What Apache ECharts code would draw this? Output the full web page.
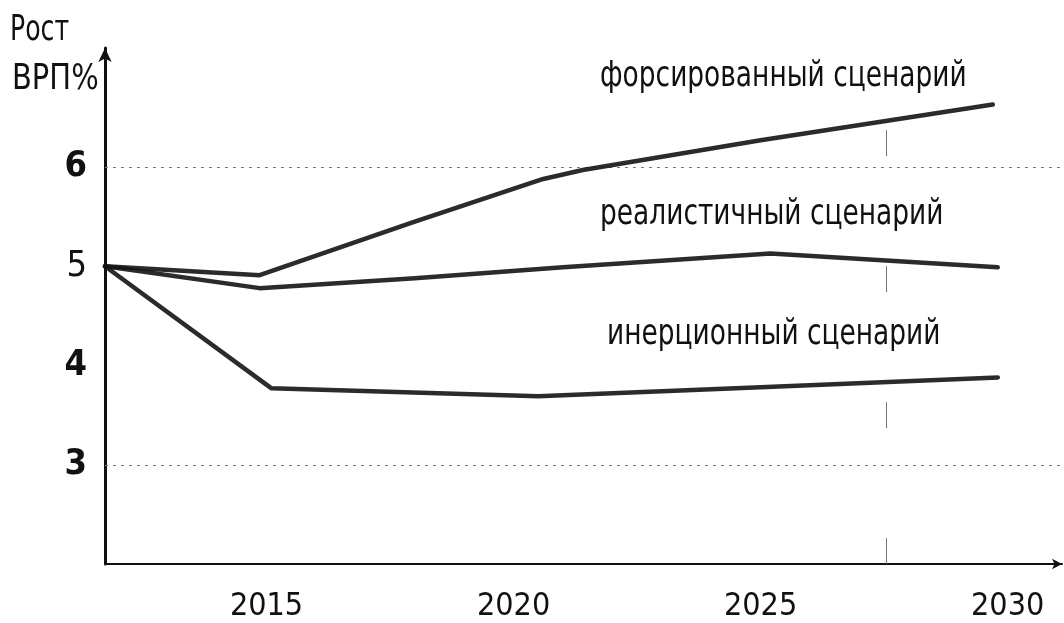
<!DOCTYPE html>
<html>
<head>
<meta charset="utf-8">
<script src="https://cdn.jsdelivr.net/npm/echarts@6/dist/echarts.min.js"></script>
<style>
  html, body { margin: 0; padding: 0; background: #fff; }
  #chart { width: 1064px; height: 623px; }
</style>
</head>
<body>
<div id="chart"></div>
<script>
// Рост ВРП, % — три сценария развития
const xStart = 2011.73;
const xEnd = 2031.1;
const yearTicks = [2015, 2020, 2025, 2030];
const growthTicks = [3, 4, 5, 6];

const forcedYears = [2011.73, 2014.86, 2018.0, 2020.6, 2021.4, 2025.0, 2029.7];
const forcedValues = [5.0, 4.91, 5.45, 5.88, 5.97, 6.27, 6.63];

const realisticYears = [2011.73, 2014.86, 2018.0, 2021.0, 2025.2, 2029.8];
const realisticValues = [5.0, 4.78, 4.88, 4.99, 5.13, 4.99];

const inertialYears = [2011.73, 2015.1, 2020.5, 2025.0, 2029.8];
const inertialValues = [5.0, 3.77, 3.69, 3.78, 3.88];

const scenarioNames = ['форсированный сценарий', 'реалистичный сценарий', 'инерционный сценарий'];
const guideLevels = [3, 6];
const foldYear = 2027.55;

const FONT = '"DejaVu Sans Condensed", "DejaVu Sans", sans-serif';
const INK = '#141414';

const pairs = (xs, ys) => xs.map((x, i) => [x, ys[i]]);

const lineSeries = (name, xs, ys) => ({
  name: name,
  type: 'line',
  data: pairs(xs, ys),
  showSymbol: false,
  smooth: false,
  lineStyle: { color: INK, width: 4.5, cap: 'round', join: 'round', opacity: 0.9 },
  silent: true,
  z: 5
});

// condensed caption text, kept as real text
const caption = (text, x, y, sx) => ({
  type: 'text', x: x, y: y, scaleX: sx, silent: true,
  style: { text: text, font: '35px ' + FONT, fill: '#111', verticalAlign: 'top', align: 'left' }
});

const chart = echarts.init(document.getElementById('chart'), null, { renderer: 'canvas' });

chart.setOption({
  backgroundColor: '#ffffff',
  animation: false,
  grid: { left: 105, right: 2, top: 48, bottom: 59 },
  xAxis: {
    type: 'value',
    min: xStart,
    max: xEnd,
    axisLine: {
      show: true,
      lineStyle: { color: '#111', width: 2 },
      symbol: ['none', 'arrow'],
      symbolSize: [8, 10]
    },
    axisTick: { show: false },
    splitLine: { show: false },
    axisLabel: {
      customValues: yearTicks,
      formatter: v => String(v),
      fontFamily: FONT,
      fontSize: 32,
      color: '#111',
      margin: 27
    }
  },
  yAxis: {
    type: 'value',
    min: 2,
    max: 7.2,
    axisLine: {
      show: true,
      lineStyle: { color: '#111', width: 3 },
      symbol: ['none', 'arrow'],
      symbolSize: [10, 14]
    },
    axisTick: { show: false },
    splitLine: { show: false },
    axisLabel: {
      customValues: growthTicks,
      formatter: v => (v === 5 ? '{r|' + v + '}' : '{b|' + v + '}'),
      margin: 18,
      rich: {
        b: { fontFamily: FONT, fontSize: 36, fontWeight: 'bold', color: '#111' },
        r: { fontFamily: FONT, fontSize: 36, fontWeight: 'normal', color: '#111' }
      }
    }
  },
  series: [
    Object.assign(lineSeries(scenarioNames[0], forcedYears, forcedValues), {
      markLine: {
        silent: true,
        symbol: 'none',
        label: { show: false },
        lineStyle: { color: '#7a7a7a', width: 1.2, type: [3, 5] },
        data: guideLevels.map(v => ({ yAxis: v }))
      }
    }),
    lineSeries(scenarioNames[1], realisticYears, realisticValues),
    Object.assign(lineSeries(scenarioNames[2], inertialYears, inertialValues), {
      markLine: {
        silent: true,
        symbol: 'none',
        label: { show: false },
        lineStyle: { color: '#777', width: 1, type: [26, 110] },
        data: [{ xAxis: foldYear }]
      }
    })
  ],
  graphic: [
    caption('Рост', 10, 13, 0.8),
    caption('ВРП%', 12, 62, 0.92),
    caption(scenarioNames[0], 600, 59, 0.84),
    caption(scenarioNames[1], 600, 197, 0.84),
    caption(scenarioNames[2], 607, 317, 0.84)
  ]
});
</script>
</body>
</html>
